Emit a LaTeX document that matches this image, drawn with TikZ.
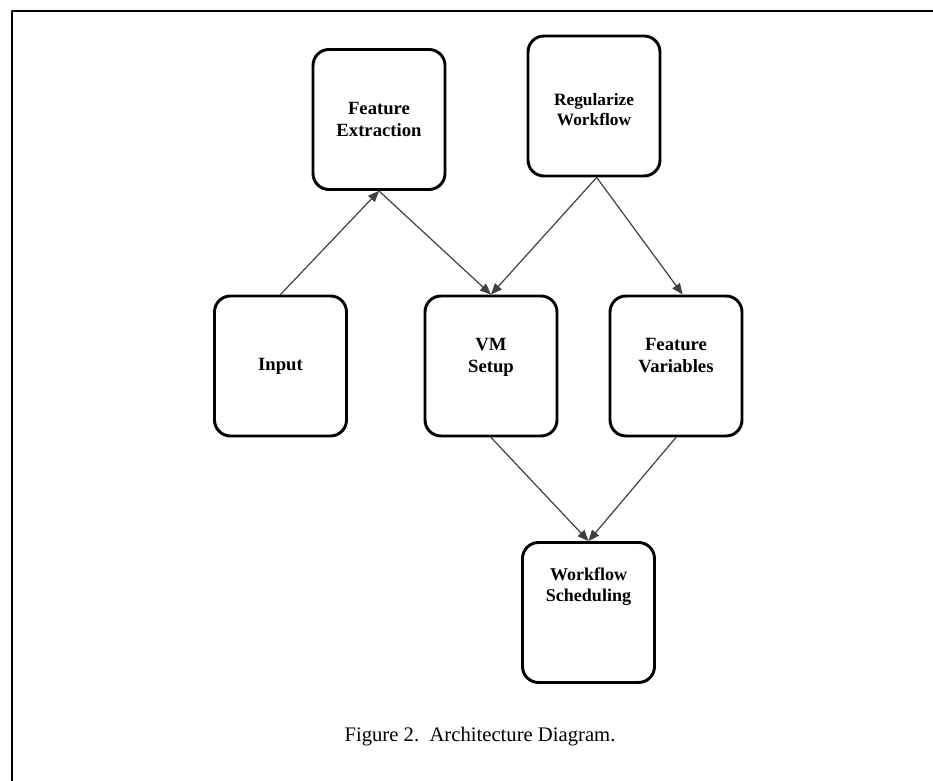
\documentclass[tikz,border=0pt]{standalone}
\usepackage{fontspec}
\setmainfont{Liberation Serif}
\usetikzlibrary{arrows}

\tikzset{
	bloc/.style={draw, line width=2.2pt, rounded corners=12pt, fill=white,
		minimum width=99pt, minimum height=105pt, align=center,
		font=\fontsize{14}{16}\selectfont\bfseries},
	lift/.style={text depth=#1},
	fleche/.style={->, line width=0.9pt, color=black!75}
}

\begin{document}
\begin{tikzpicture}[line cap=round,line join=round,>=triangle 45,x=0.75pt,y=0.75pt]
		\useasboundingbox (0,0) rectangle (933,781);
		% cadre
		\draw[line width=2.2pt, line cap=butt] (12,0)--(12,770)--(933,770);
		% Etage 1
		\node[bloc] (extr) at (379,661.5) {Feature\\Extraction};
		\node[bloc, font=\fontsize{13}{15}\selectfont\bfseries, text height=30pt] (regul) at (594,675) {Regularize\\Workflow};
		% Etage 2
		\node[bloc] (input) at (280.5,415) {Input};
		\node[bloc, lift=16pt] (vm) at (491,415) {VM\\Setup};
		\node[bloc, lift=16pt] (fvar) at (676,415) {Feature\\Variables};
		% Etage 3
		\node[bloc, font=\fontsize{13.5}{15.5}\selectfont\bfseries, lift=42pt] (sched) at (588.5,168.5) {Workflow\\Scheduling};
		% fleches
		\draw[fleche] (input.north)--(extr.south);
		\draw[fleche] (extr.south)--(vm.north);
		\draw[fleche] ([xshift=2pt]regul.south)--(vm.north);
		\draw[fleche] ([xshift=2pt]regul.south)--([xshift=5pt]fvar.north);
		\draw[fleche] (vm.south)--(sched.north);
		\draw[fleche] (fvar.south)--(sched.north);
		% legende
		\node[font=\fontsize{15.5}{17}\selectfont] (legende) at (480,44) {Figure 2.\ \ Architecture Diagram.};
\end{tikzpicture}
\end{document}
